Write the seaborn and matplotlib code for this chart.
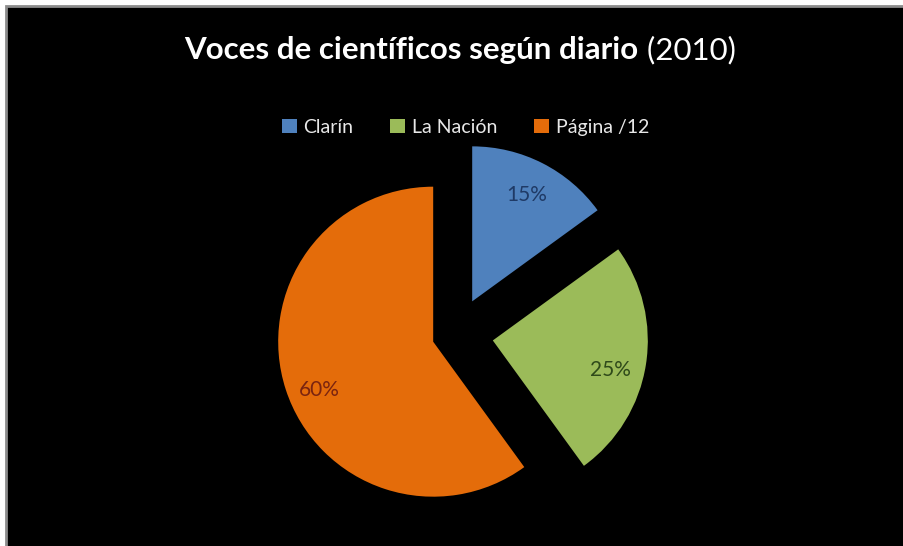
import matplotlib
matplotlib.use("Agg")
import matplotlib.pyplot as plt
import matplotlib.transforms as mtrans
import seaborn as sns
from matplotlib.patches import Rectangle, Patch

# ---- data ----
categories = ["Clarín", "La Nación", "Página /12"]
values = [15, 25, 60]
title_bold = "Voces de científicos según diario"
title_normal = " (2010)"

# ---- style ----
sns.set_style("dark")
plt.rcParams["font.family"] = ["Lato", "DejaVu Sans"]
palette = sns.color_palette(["#4F81BD", "#9BBB59", "#E46C0A"])
label_colors = ["#1F3A66", "#2F4A1A", "#7A2410"]
explode = [0.24, 0.245, 0.15]
label_dy = [0, -8, -8]  # points, fine placement of percentage labels

W, H = 904, 546
fig = plt.figure(figsize=(W / 100, H / 100), dpi=100)
fig.patch.set_facecolor("white")
# black chart area with grey frame (cropped screenshot look)
fig.patches.append(Rectangle((6 / W, -0.01), 1.02, 1 - 6 / H + 0.01,
                             transform=fig.transFigure, facecolor="black",
                             edgecolor="#8C8C8C", linewidth=2, zorder=-10))

ax = fig.add_axes([0, 0, 1, 1], zorder=5)
ax.set_facecolor("none")
ax.patch.set_alpha(0)
R = 155.0
cx, cy = 455.3, 334.5
wedges, texts, autotexts = ax.pie(
    values, colors=palette, explode=explode, startangle=90, counterclock=False,
    autopct="%1.0f%%", pctdistance=0.77, radius=1.0,
    wedgeprops=dict(linewidth=0), textprops=dict(fontsize=15))
for t, c, dy in zip(autotexts, label_colors, label_dy):
    t.set_color(c)
    t.set_transform(mtrans.offset_copy(ax.transData, fig=fig, x=0, y=dy, units="points"))
ax.set_xlim(-cx / R, (W - cx) / R)
ax.set_ylim(-(H - cy) / R, cy / R)
ax.set_aspect("equal", adjustable="datalim")
ax.axis("off")

# legend
handles = [Patch(facecolor=c, edgecolor="none") for c in palette]
leg = fig.legend(handles, categories, loc="center", bbox_to_anchor=(0.515, 1 - 127 / H),
                 ncol=3, frameon=False, fontsize=14, handlelength=0.75,
                 handleheight=0.75, handletextpad=0.35, columnspacing=1.9)
for t in leg.get_texts():
    t.set_color("#E8E8E8")

# title: bold part + normal part, centered together
ty = 1 - 50 / H
t1 = fig.text(0, ty, title_bold, fontsize=22.5, fontweight="bold", color="white",
              ha="left", va="center")
t2 = fig.text(0, ty, title_normal, fontsize=22.5, color="white", ha="left", va="center")
r = fig.canvas.get_renderer()
w1 = t1.get_window_extent(r).width
w2 = t2.get_window_extent(r).width
x0 = 460 - (w1 + w2) / 2
t1.set_x(x0 / W)
t2.set_x((x0 + w1) / W)

fig.savefig("out.png", dpi=100, facecolor=fig.get_facecolor())
